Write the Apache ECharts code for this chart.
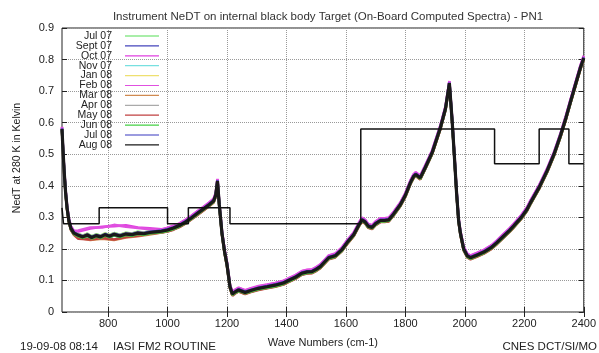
<!DOCTYPE html>
<html>
<head>
<meta charset="utf-8">
<script src="https://cdn.jsdelivr.net/npm/echarts@6/dist/echarts.min.js"></script>
<style>
  html, body { margin: 0; padding: 0; background: #fff; }
  #chart { width: 599px; height: 353px; }
</style>
</head>
<body>
<div id="chart"></div>
<script>
// Aug 08 curve (black)
const waveNumbers = [645, 648, 652, 657, 662, 668, 675, 685, 700, 715, 730, 745, 760, 775, 790, 805, 820, 840, 860, 880,
  900, 920, 940, 960, 980, 1000, 1020, 1040, 1060, 1080, 1100, 1120, 1140, 1155, 1162, 1168, 1174, 1183, 1192, 1200,
  1210, 1218, 1228, 1239, 1250, 1261, 1280, 1306, 1335, 1362, 1390, 1405, 1430, 1452, 1470, 1486, 1500, 1514, 1530, 1542,
  1564, 1587, 1604, 1626, 1643, 1654, 1665, 1675, 1688, 1700, 1716, 1730, 1744, 1760, 1783, 1800, 1817, 1828, 1835, 1850,
  1867, 1890, 1918, 1935, 1948, 1957, 1965, 1972, 1979, 1985, 1996, 2008, 2019, 2040, 2064, 2090, 2108, 2130, 2150, 2164,
  2190, 2209, 2220, 2250, 2277, 2300, 2322, 2340, 2355, 2372, 2389, 2400];
const aug08 = [0.58, 0.52, 0.45, 0.38, 0.33, 0.29, 0.265, 0.25, 0.243, 0.238, 0.244, 0.236, 0.242, 0.238, 0.245, 0.24, 0.246, 0.241, 0.247, 0.245,
  0.25, 0.248, 0.252, 0.254, 0.256, 0.26, 0.266, 0.274, 0.285, 0.298, 0.312, 0.326, 0.34, 0.352, 0.37, 0.415, 0.34, 0.25, 0.19, 0.15,
  0.08, 0.057, 0.064, 0.07, 0.066, 0.062, 0.068, 0.075, 0.08, 0.085, 0.092, 0.099, 0.11, 0.123, 0.127, 0.128, 0.135, 0.144, 0.16, 0.172,
  0.178, 0.198, 0.22, 0.245, 0.275, 0.292, 0.285, 0.272, 0.268, 0.28, 0.29, 0.29, 0.292, 0.31, 0.34, 0.37, 0.41, 0.43, 0.436, 0.425,
  0.458, 0.505, 0.585, 0.645, 0.725, 0.61, 0.49, 0.38, 0.29, 0.25, 0.2, 0.178, 0.172, 0.18, 0.19, 0.205, 0.22, 0.24, 0.258, 0.272,
  0.3, 0.325, 0.345, 0.395, 0.448, 0.5, 0.56, 0.615, 0.665, 0.72, 0.775, 0.805];

const months = ["Jul 07", "Sept 07", "Oct 07", "Nov 07", "Jan 08", "Feb 08", "Mar 08", "Apr 08", "May 08", "Jun 08", "Jul 08", "Aug 08"];
const monthColors = ["#55dd55", "#4444bb", "#e040e0", "#77e0e0", "#eee070", "#e050e0", "#d08a50", "#aaaaaa", "#c04040", "#44d044", "#3838c0", "#1a1a1a"];
// small offset of each month against Aug 08 (the coloured fringe)
const monthShift = [0.004, -0.003, 0.006, 0.002, 0.003, 0.007, -0.004, 0.0, -0.005, -0.003, 0.002, 0.0];

// low band 700-980 cm-1 where some months split away from the rest
const troughWn = [700, 740, 780, 820, 860, 900, 940, 980];
const troughOct07 = [0.255, 0.265, 0.27, 0.272, 0.275, 0.268, 0.265, 0.262];
const troughFeb08 = [0.258, 0.268, 0.268, 0.276, 0.27, 0.266, 0.262, 0.26];
const troughMar08 = [0.235, 0.228, 0.232, 0.228, 0.236, 0.24, 0.246, 0.252];
const troughMay08 = [0.232, 0.23, 0.235, 0.23, 0.238, 0.242, 0.248, 0.252];
const troughByMonth = { "Oct 07": troughOct07, "Feb 08": troughFeb08, "Mar 08": troughMar08, "May 08": troughMay08 };

// specification (step line)
const specEdges = [645, 650, 770, 1000, 1070, 1210, 1650, 2100, 2250, 2350, 2400];
const specValues = [0.33, 0.28, 0.33, 0.28, 0.33, 0.28, 0.58, 0.47, 0.58, 0.47, 0.47];

const xTicks = [800, 1000, 1200, 1400, 1600, 1800, 2000, 2200, 2400];

function monthData(i) {
  const name = months[i];
  const trough = troughByMonth[name];
  const out = [];
  waveNumbers.forEach((wn, k) => {
    if (trough && wn >= 695 && wn <= 990) return;
    out.push([wn, aug08[k] + monthShift[i]]);
    if (trough && wn === 685) {
      troughWn.forEach((t, j) => out.push([t, trough[j]]));
    }
  });
  return out;
}

const font = "'Liberation Sans', Arial, sans-serif";
const txt = "#222";

const series = months.map((m, i) => ({
  name: m,
  type: "line",
  data: monthData(i),
  symbol: "none",
  silent: true,
  z: 3 + i,
  lineStyle: { color: monthColors[i], width: i === months.length - 1 ? 3.2 : 2.6 },
}));
series.push({
  name: "spec",
  type: "line",
  step: "end",
  data: specEdges.map((e, i) => [e, specValues[i]]),
  symbol: "none",
  silent: true,
  z: 20,
  lineStyle: { color: "#111", width: 1.5 },
});

const legendGraphics = [];
months.forEach((m, i) => {
  const y = 36 + i * 9.9;
  legendGraphics.push({
    type: "text", x: 112, y: y, z: 50,
    style: { text: m, font: "10.5px " + font, fill: txt, textAlign: "right", textVerticalAlign: "middle" },
  });
  legendGraphics.push({
    type: "line", z: 50,
    shape: { x1: 125, y1: y, x2: 159, y2: y },
    style: { stroke: monthColors[i], lineWidth: 1.2 },
  });
});

const chart = echarts.init(document.getElementById("chart"), null, { renderer: "canvas" });
chart.setOption({
  animation: false,
  backgroundColor: "#fff",
  title: {
    text: "Instrument NeDT on internal black body Target (On-Board Computed Spectra) - PN1",
    left: 323, top: 6, textAlign: "center",
    textStyle: { fontFamily: font, fontSize: 11.5, fontWeight: "normal", color: "#333" },
  },
  grid: { left: 62, right: 15, top: 28, bottom: 40, show: true, borderColor: "#222", borderWidth: 1 },
  xAxis: [
    {
      type: "value", min: 645, max: 2400,
      name: "Wave Numbers (cm-1)", nameLocation: "middle", nameGap: 25,
      nameTextStyle: { fontFamily: font, fontSize: 11, color: txt },
      axisLine: { show: false },
      axisTick: { show: true, inside: true, length: 5, customValues: xTicks, lineStyle: { color: "#222" } },
      axisLabel: { customValues: xTicks, fontFamily: font, fontSize: 11, color: txt, margin: 6, formatter: (v) => String(v) },
      splitLine: { show: true, customValues: xTicks, lineStyle: { type: "dotted", color: "#999" } },
    },
    {
      type: "value", min: 645, max: 2400, position: "top",
      axisLine: { show: false },
      axisTick: { show: true, inside: true, length: 5, customValues: xTicks, lineStyle: { color: "#222" } },
      axisLabel: { show: false, customValues: xTicks },
      splitLine: { show: false },
    },
  ],
  yAxis: [
    {
      type: "value", min: 0, max: 0.9, interval: 0.1,
      axisLine: { show: false },
      axisTick: { show: true, inside: true, length: 5, lineStyle: { color: "#222" } },
      axisLabel: { fontFamily: font, fontSize: 11, color: txt, margin: 8, formatter: (v) => String(Math.round(v * 10) / 10) },
      splitLine: { show: true, lineStyle: { type: "dotted", color: "#999" } },
    },
    {
      type: "value", min: 0, max: 0.9, interval: 0.1, position: "right",
      axisLine: { show: false },
      axisTick: { show: true, inside: true, length: 5, lineStyle: { color: "#222" } },
      axisLabel: { show: false },
      splitLine: { show: false },
    },
  ],
  series: series,
  graphic: [
    ...legendGraphics,
    { type: "text", x: 17, y: 158, rotation: Math.PI / 2,
      style: { text: "NedT at 280 K in Kelvin", font: "10.5px " + font, fill: txt, textAlign: "center", textVerticalAlign: "middle" } },
    { type: "text", x: 20, y: 347, style: { text: "19-09-08 08:14", font: "11.5px " + font, fill: txt, textVerticalAlign: "middle" } },
    { type: "text", x: 113, y: 347, style: { text: "IASI FM2 ROUTINE", font: "11.5px " + font, fill: txt, textVerticalAlign: "middle" } },
    { type: "text", x: 597, y: 347, style: { text: "CNES DCT/SI/MO", font: "11.5px " + font, fill: txt, textAlign: "right", textVerticalAlign: "middle" } },
  ],
});
</script>
</body>
</html>
